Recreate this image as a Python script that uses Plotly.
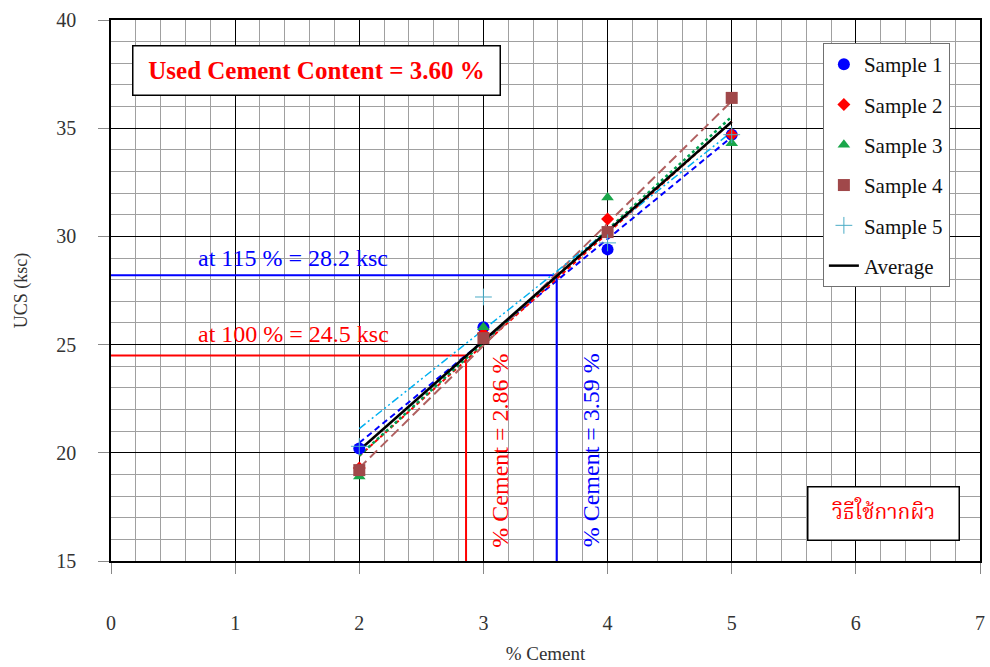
import numpy as np
import plotly.graph_objects as go

# % cement content of the test specimens
cement = [2, 3, 4, 5]

# UCS results (ksc) for each sample
sample_1 = [20.2, 25.8, 29.4, 34.7]
sample_2 = [19.3, 25.5, 30.8, 34.7]
sample_3 = [18.9, 25.8, 31.8, 34.3]
sample_4 = [19.2, 25.3, 30.2, 36.4]
sample_5 = [20.3, 27.2, 29.7, 34.7]

sample_names = ["Sample 1", "Sample 2", "Sample 3", "Sample 4", "Sample 5"]

# required strengths and the cement contents
target_labels = ["at 100 % = 24.5 ksc", "at 115 % = 28.2 ksc"]
target_ucs = [24.5, 28.2]
target_cement = [2.86, 3.59]
used_cement = 3.60
method_label = "วิธีใช้กากผิว"

SERIF = "Liberation Serif, Times New Roman, serif"

samples = [sample_1, sample_2, sample_3, sample_4, sample_5]
average = list(np.mean(np.array(samples), axis=0))

marker_styles = [
    dict(symbol="circle", size=12, color="#0000FF"),
    dict(symbol="diamond", size=10, color="#FF0000"),
    dict(symbol="triangle-up", size=11, color="#1AA64A"),
    dict(symbol="square", size=12, color="#A0484A"),
    dict(symbol="cross-thin", size=12, color="#4BACC6", line=dict(width=1, color="#4BACC6")),
]
trend_styles = [
    dict(color="#0000FF", width=2, dash="6px,4px"),
    dict(color="#FF0000", width=2, dash="4px,3px"),
    dict(color="#00A050", width=2.5, dash="dot"),
    dict(color="#B06060", width=2, dash="10px,5px"),
    dict(color="#00B0F0", width=1.5, dash="8px,3px,2px,3px,2px,3px"),
]

fig = go.Figure()

# reference lines for the required strengths
ref_colors = ["#FF0000", "#0000FF"]
label_shift = [6, 2]
for ucs, pc, col in zip(target_ucs, target_cement, ref_colors):
    fig.add_trace(go.Scatter(x=[0, pc, pc], y=[ucs, ucs, 15], mode="lines",
                             line=dict(color=col, width=2), showlegend=False,
                             hoverinfo="skip"))

# linear trend line for each sample
xs = np.array([min(cement), max(cement)])
for vals, ts in zip(samples, trend_styles):
    k, b = np.polyfit(cement, vals, 1)
    fig.add_trace(go.Scatter(x=xs, y=k * xs + b, mode="lines", line=ts,
                             showlegend=False, hoverinfo="skip"))

k_avg, b_avg = np.polyfit(cement, average, 1)
fig.add_trace(go.Scatter(x=xs, y=k_avg * xs + b_avg, mode="lines",
                         line=dict(color="black", width=2.5), name="Average",
                         legendgroup="g6", legendrank=6))

# measured points
for i, (name, vals, ms) in enumerate(zip(sample_names, samples, marker_styles)):
    fig.add_trace(go.Scatter(x=cement, y=vals, mode="markers", name=name,
                             marker=ms, legendgroup=f"g{i+1}", legendrank=i + 1))

grid_major = "#000000"
grid_minor = "#A0A0A0"

fig.update_layout(
    width=990, height=667,
    margin=dict(l=111, r=5, t=20, b=106),
    paper_bgcolor="white", plot_bgcolor="white",
    font=dict(family=SERIF, size=20, color="#222222"),
    legend=dict(
        x=0.8192, y=0.9575, xanchor="left", yanchor="top",
        bgcolor="white", bordercolor="#707070", borderwidth=1,
        font=dict(family=SERIF, size=21, color="#111111"),
        traceorder="grouped", tracegroupgap=10,
    ),
    xaxis=dict(
        range=[0, 7], dtick=1, tick0=0,
        showgrid=True, gridcolor=grid_major, gridwidth=1,
        minor=dict(dtick=0.2, showgrid=True, gridcolor=grid_minor, gridwidth=1),
        showline=True, linecolor="black", linewidth=1.5, mirror=True,
        ticks="outside", ticklen=11, tickcolor="#888888",
        ticklabelstandoff=32, zeroline=False,
        tickfont=dict(family=SERIF, size=20, color="#333333"),
        title=dict(text="% Cement", font=dict(family=SERIF, size=19, color="#333333"),
                   standoff=14),
    ),
    yaxis=dict(
        range=[15, 40], dtick=5, tick0=15,
        showgrid=True, gridcolor=grid_major, gridwidth=1,
        minor=dict(dtick=1, showgrid=True, gridcolor=grid_minor, gridwidth=1),
        showline=True, linecolor="black", linewidth=1.5, mirror=True,
        ticks="outside", ticklen=11, tickcolor="#888888",
        ticklabelstandoff=18, zeroline=False,
        tickfont=dict(family=SERIF, size=20, color="#333333"),
        title=dict(text="UCS (ksc)", font=dict(family=SERIF, size=18, color="#333333"),
                   standoff=24),
    ),
)

# labels on the reference lines
for txt, ucs, col, ys in zip(target_labels, target_ucs, ref_colors, label_shift):
    fig.add_annotation(x=1.47, y=ucs, xref="x", yref="y", text=txt, showarrow=False,
                       xanchor="center", yanchor="bottom", yshift=ys,
                       font=dict(family=SERIF, size=24, color=col))
for pc, col in zip(target_cement, ref_colors):
    fig.add_annotation(x=pc, y=20.1, xref="x", yref="y",
                       text=f"% Cement = {pc:.2f} %", showarrow=False, textangle=-90,
                       xanchor="center", yanchor="middle", xshift=34,
                       font=dict(family=SERIF, size=24, color=col))

# result box
fig.add_annotation(x=0.2365, y=0.9067, xref="paper", yref="paper",
                   text=f"<b>Used Cement Content = {used_cement:.2f} %</b>",
                   showarrow=False, xanchor="center", yanchor="middle",
                   width=364, height=46, bgcolor="white", bordercolor="black",
                   borderwidth=1.5, borderpad=1,
                   font=dict(family=SERIF, size=25, color="#FF0000"))

# method box
fig.add_annotation(x=0.8885, y=0.0878, xref="paper", yref="paper",
                   text=method_label, showarrow=False,
                   xanchor="center", yanchor="middle",
                   width=148, height=50, bgcolor="white", bordercolor="black",
                   borderwidth=1.5, borderpad=1,
                   font=dict(family="Noto Serif Thai, Noto Sans Thai, Loma, Garuda, serif",
                             size=21, color="#FF0000"))

fig.write_html("out.html")
